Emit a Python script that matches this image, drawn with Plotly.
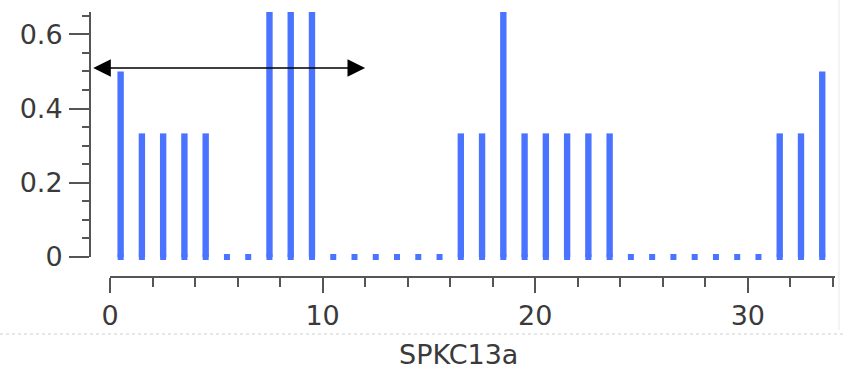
import plotly.graph_objects as go

# ---- data ----
positions = [i + 0.5 for i in range(34)]
values = [0.5, 0.333, 0.333, 0.333, 0.333, 0, 0, 0.667, 0.667, 0.667,
          0, 0, 0, 0, 0, 0, 0.333, 0.333, 0.667, 0.333,
          0.333, 0.333, 0.333, 0.333, 0, 0, 0, 0, 0, 0,
          0, 0.333, 0.333, 0.5]
x_title = "SPKC13a"
y_tickvals = [0, 0.2, 0.4, 0.6]
y_ticktext = ["0", "0.2", "0.4", "0.6"]
x_tickvals = [0, 10, 20, 30]
x_ticktext = ["0", "10", "20", "30"]

BLUE = "#4a73ff"
AX = "#555555"
TXT = "#3a3a3a"
FONT = "DejaVu Sans"
FS = 27

W, H = 844, 370


def px(rx):
    return rx / W


def py(ry):
    return 1 - ry / H


fig = go.Figure()
fig.add_trace(go.Bar(x=positions, y=values, width=0.3,
                     marker=dict(color=BLUE, line=dict(width=0)),
                     showlegend=False, hoverinfo="x+y"))
fig.add_trace(go.Scatter(x=positions, y=[0] * len(positions), mode="markers",
                         marker=dict(symbol="square", size=6, color=BLUE),
                         cliponaxis=False, showlegend=False, hoverinfo="skip"))

fig.add_annotation(x=12.0, y=0.509, ax=-0.86, ay=0.509, xref="x", yref="y",
                   axref="x", ayref="y", text="", showarrow=True,
                   arrowside="end+start", arrowhead=2, arrowsize=2.2,
                   arrowwidth=1.6, arrowcolor="black", standoff=0, startstandoff=0)

fig.add_annotation(x=px(458), y=py(354),
                   xref="paper", yref="paper", text=x_title, showarrow=False,
                   xanchor="center", yanchor="middle",
                   font=dict(family=FONT, size=FS, color=TXT))

fig.update_layout(
    width=W, height=H, margin=dict(l=0, r=0, t=0, b=0, autoexpand=False),
    paper_bgcolor="white", plot_bgcolor="white",
    font=dict(family=FONT, size=FS, color=TXT),
    xaxis=dict(domain=[px(110), px(835)], range=[0, 34.1],
               anchor="free", position=py(277), automargin=False,
               showgrid=False, zeroline=False,
               showline=True, linecolor=AX, linewidth=2,
               ticks="outside", ticklen=15, tickwidth=2, tickcolor=AX,
               tickvals=x_tickvals, ticktext=x_ticktext,
               minor=dict(dtick=2, ticks="outside", ticklen=9, tickwidth=2,
                          tickcolor=AX, showgrid=False),
               tickfont=dict(family=FONT, size=FS, color=TXT)),
    yaxis=dict(domain=[py(257), py(12)], range=[0, 0.66],
               anchor="free", position=px(90), automargin=False,
               showgrid=False, zeroline=False,
               showline=True, linecolor=AX, linewidth=2,
               ticks="outside", ticklen=20, tickwidth=2, tickcolor=AX,
               tickvals=y_tickvals, ticktext=y_ticktext,
               ticklabelstandoff=1,
               minor=dict(dtick=0.05, ticks="outside", ticklen=7, tickwidth=2,
                          tickcolor=AX, showgrid=False),
               tickfont=dict(family=FONT, size=FS, color=TXT)),
    shapes=[
        dict(type="line", xref="paper", yref="paper", x0=0, x1=1,
             y0=py(334), y1=py(334),
             line=dict(color="#cfcfcf", width=1, dash="dot")),
        dict(type="line", xref="paper", yref="paper", x0=px(839), x1=px(839),
             y0=py(330), y1=1,
             line=dict(color="#e8e8e8", width=1)),
    ],
)

fig.write_html("out.html",
               config={"displayModeBar": False},
               post_script="document.body.style.margin='0';"
                           "document.body.style.overflow='hidden';")
